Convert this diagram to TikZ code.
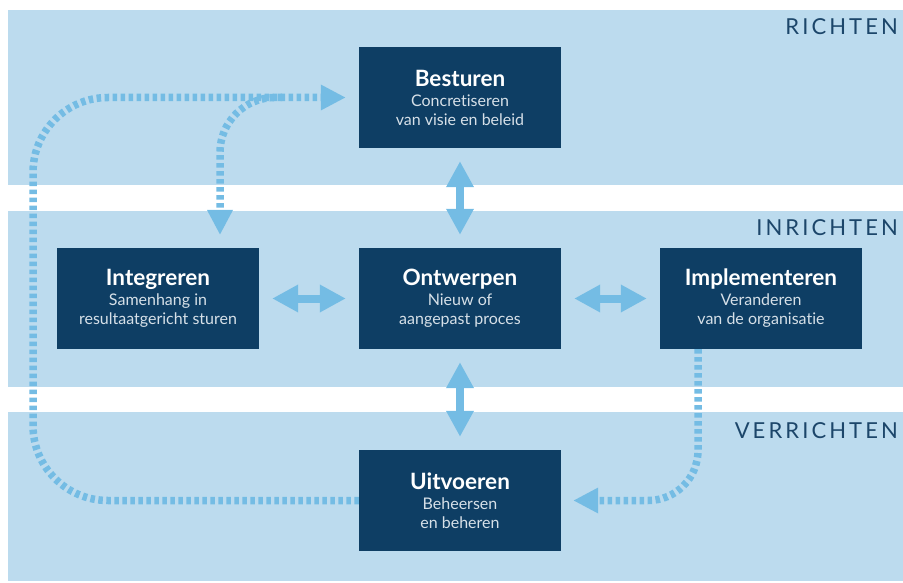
\documentclass[tikz,border=0pt]{standalone}
\usepackage{fontspec}
\setmainfont{Lato}
\newfontfamily\bandfont[LetterSpace=14]{Lato}
\usetikzlibrary{arrows.meta}
\definecolor{bgblue}{RGB}{188,219,238}
\definecolor{navy}{RGB}{14,62,100}
\definecolor{arrowblue}{RGB}{116,188,228}
\definecolor{labelnavy}{RGB}{28,70,106}
\definecolor{subgrey}{RGB}{214,224,232}
\newcommand\boxtitle[1]{{\color{white}\fontsize{22.5}{25}\selectfont\bfseries #1}}
\newcommand\nolig{\kern0pt\relax}
\begin{document}
\begin{tikzpicture}[x=1pt,y=-1pt,
  band/.style={fill=bgblue},
  procbox/.style={fill=navy, minimum width=202pt, minimum height=101pt, inner sep=0pt,
    align=center, text=subgrey, font=\fontsize{16}{19}\selectfont},
  bandlbl/.style={anchor=base east, text=labelnavy, inner sep=0pt,
    font=\bandfont\fontsize{22}{25}\selectfont},
  dbl/.style={draw=arrowblue, line width=8pt, shorten <=13pt, shorten >=13pt,
    {Triangle[width=26pt,length=26pt]}-{Triangle[width=26pt,length=26pt]}},
  dotline/.style={draw=arrowblue, line width=7.5pt, dash pattern=on 4.5pt off 3.5pt,
    -{Triangle[width=24pt,length=25pt]}}
]
\useasboundingbox (0,0) rectangle (903,583);
% bands
\fill[band] (8,10) rectangle (903,185);
\fill[band] (8,211) rectangle (903,387);
\fill[band] (8,412) rectangle (903,581);
% band labels
\node[bandlbl] (lrichten) at (898,35) {RICHTEN};
\node[bandlbl] (linrichten) at (898,235) {INRICHTEN};
\node[bandlbl] (lverrichten) at (898,438) {VERRICHTEN};
% boxes
\node[procbox] (b) at (460,97.5) {\boxtitle{Besturen}\\[1pt] Concret\nolig iseren\\ van visie en beleid};
\node[procbox] (i) at (158,298.5) {\boxtitle{Integreren}\\[1pt] Samenhang in\\ resultaatgericht sturen};
\node[procbox] (o) at (460,298.5) {\boxtitle{Ontwerpen}\\[1pt] Nieuw of\\ aangepast proces};
\node[procbox] (m) at (761,298.5) {\boxtitle{Implementeren}\\[1pt] Veranderen\\ van de organisat\nolig ie};
\node[procbox] (u) at (460,500.5) {\boxtitle{Uitvoeren}\\[1pt] Beheersen\\ en beheren};
% solid double arrows
\draw[dbl] (b.south) -- (o.north);
\draw[dbl] (o.south) -- (u.north);
\draw[dbl] (i.east) -- (o.west);
\draw[dbl] (o.east) -- (m.west);
% dotted loops
\coordinate (outercorner) at (33,97.5);
\coordinate (branch) at (282,97.5);
\coordinate (itop) at (220,235);
\coordinate (mdown) at (698,349);
\draw[dotline, rounded corners=75pt] (u.west) -| (outercorner) -- ([xshift=-13pt]b.west);
\draw[dotline, rounded corners=55pt] (branch) -| (itop);
\draw[dotline, rounded corners=50pt] (mdown) |- ([xshift=12pt]u.east);
\end{tikzpicture}
\end{document}
